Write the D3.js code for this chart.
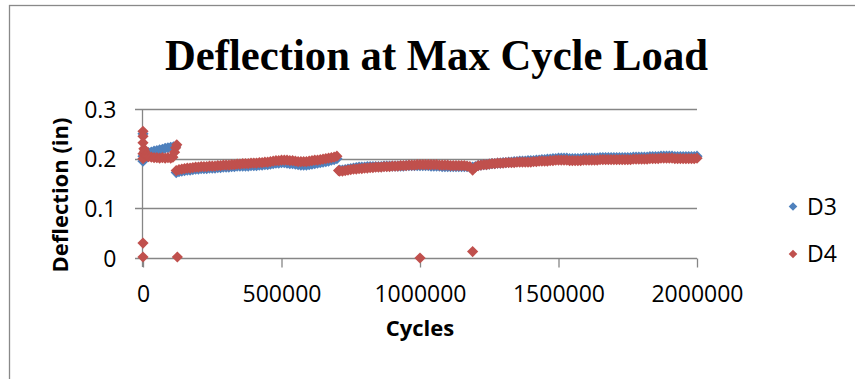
<!DOCTYPE html>
<html>
<head>
<meta charset="utf-8">
<script src="https://d3js.org/d3.v7.min.js"></script>
<style>
  body { margin: 0; background: #fff; }
</style>
</head>
<body>
<script>
// tick labels
var xTicks = [0, 500000, 1000000, 1500000, 2000000];
var yTicks = [0, 0.1, 0.2, 0.3];
var seriesNames = ['D3', 'D4'];
var seriesColors = ['#4F81BD', '#C0504D'];

// D3 readings [cycles, deflection]
var d3Points = [
  [0, 0.195], [0, 0.25], [0, 0.205], [5000, 0.206], [10000, 0.209], [20000, 0.212], [30000, 0.213], [40000, 0.215],
  [50000, 0.216], [60000, 0.218], [70000, 0.219], [80000, 0.221], [90000, 0.222], [100000, 0.223], [110000, 0.224], [118000, 0.225],
  [120000, 0.172], [130000, 0.174], [140000, 0.175], [150000, 0.176], [160000, 0.177], [170000, 0.177], [180000, 0.178], [190000, 0.179],
  [200000, 0.179], [210000, 0.18], [220000, 0.18], [230000, 0.18], [240000, 0.181], [250000, 0.181], [260000, 0.181], [270000, 0.182],
  [280000, 0.182], [290000, 0.183], [300000, 0.183], [310000, 0.183], [320000, 0.184], [330000, 0.184], [340000, 0.185], [350000, 0.185],
  [360000, 0.185], [370000, 0.185], [380000, 0.185], [390000, 0.186], [400000, 0.186], [410000, 0.186], [420000, 0.187], [430000, 0.187],
  [440000, 0.188], [450000, 0.188], [460000, 0.189], [470000, 0.19], [480000, 0.191], [490000, 0.191], [500000, 0.192], [510000, 0.192],
  [520000, 0.191], [530000, 0.19], [540000, 0.19], [550000, 0.189], [560000, 0.188], [570000, 0.187], [580000, 0.187], [590000, 0.187],
  [600000, 0.188], [610000, 0.189], [620000, 0.19], [630000, 0.191], [640000, 0.192], [650000, 0.193], [660000, 0.194], [670000, 0.195],
  [680000, 0.197], [690000, 0.198], [700000, 0.2],
  [710000, 0.177], [720000, 0.177], [730000, 0.178], [740000, 0.179], [750000, 0.18], [760000, 0.181], [770000, 0.182], [780000, 0.183],
  [790000, 0.183], [800000, 0.183], [810000, 0.184], [820000, 0.184], [830000, 0.184], [840000, 0.184], [850000, 0.184], [860000, 0.184],
  [870000, 0.185], [880000, 0.185], [890000, 0.185], [900000, 0.185], [910000, 0.185], [920000, 0.185], [930000, 0.185], [940000, 0.185],
  [950000, 0.186], [960000, 0.186], [970000, 0.186], [980000, 0.186], [990000, 0.186], [1000000, 0.186], [1010000, 0.186], [1020000, 0.186],
  [1030000, 0.186], [1040000, 0.185], [1050000, 0.185], [1060000, 0.185], [1070000, 0.185], [1080000, 0.184], [1090000, 0.184], [1100000, 0.184],
  [1110000, 0.184], [1120000, 0.184], [1130000, 0.184], [1140000, 0.184], [1150000, 0.184], [1160000, 0.184], [1170000, 0.184], [1180000, 0.183],
  [1190000, 0.183], [1200000, 0.184], [1210000, 0.186], [1220000, 0.187], [1230000, 0.188], [1240000, 0.188], [1250000, 0.189], [1260000, 0.19],
  [1270000, 0.19], [1280000, 0.191], [1290000, 0.191], [1300000, 0.192], [1310000, 0.192], [1320000, 0.193], [1330000, 0.193], [1340000, 0.194],
  [1350000, 0.194], [1360000, 0.195], [1370000, 0.195], [1380000, 0.195], [1390000, 0.196], [1400000, 0.196], [1410000, 0.196], [1420000, 0.197],
  [1430000, 0.197], [1440000, 0.198], [1450000, 0.198], [1460000, 0.199], [1470000, 0.199], [1480000, 0.2], [1490000, 0.2], [1500000, 0.201],
  [1510000, 0.201], [1520000, 0.201], [1530000, 0.201], [1540000, 0.2], [1550000, 0.2], [1560000, 0.2], [1570000, 0.2], [1580000, 0.2],
  [1590000, 0.201], [1600000, 0.201], [1610000, 0.201], [1620000, 0.201], [1630000, 0.201], [1640000, 0.201], [1650000, 0.202], [1660000, 0.202],
  [1670000, 0.202], [1680000, 0.202], [1690000, 0.202], [1700000, 0.202], [1710000, 0.202], [1720000, 0.202], [1730000, 0.202], [1740000, 0.202],
  [1750000, 0.202], [1760000, 0.202], [1770000, 0.203], [1780000, 0.203], [1790000, 0.203], [1800000, 0.203], [1810000, 0.203], [1820000, 0.203],
  [1830000, 0.204], [1840000, 0.204], [1850000, 0.204], [1860000, 0.204], [1870000, 0.205], [1880000, 0.205], [1890000, 0.205], [1900000, 0.205],
  [1910000, 0.205], [1920000, 0.204], [1930000, 0.204], [1940000, 0.204], [1950000, 0.204], [1960000, 0.204], [1970000, 0.204], [1980000, 0.204],
  [1990000, 0.204], [2000000, 0.205]
];

// D4 readings [cycles, deflection]
var d4Points = [
  [0, 0.255], [0, 0.245], [0, 0.232], [0, 0.21], [0, 0.2], [0, 0.03], [0, 0.002],
  [3000, 0.22], [6000, 0.215], [10000, 0.206], [15000, 0.205], [20000, 0.204], [30000, 0.203], [40000, 0.202], [50000, 0.202],
  [60000, 0.201], [70000, 0.202], [80000, 0.201], [90000, 0.202], [100000, 0.201], [108000, 0.203], [114000, 0.213], [118000, 0.222],
  [122000, 0.228], [124000, 0.002],
  [120000, 0.176], [130000, 0.178], [140000, 0.179], [150000, 0.18], [160000, 0.181], [170000, 0.181], [180000, 0.182], [190000, 0.183],
  [200000, 0.183], [210000, 0.184], [220000, 0.184], [230000, 0.184], [240000, 0.185], [250000, 0.185], [260000, 0.185], [270000, 0.186],
  [280000, 0.186], [290000, 0.187], [300000, 0.187], [310000, 0.187], [320000, 0.188], [330000, 0.188], [340000, 0.189], [350000, 0.189],
  [360000, 0.19], [370000, 0.19], [380000, 0.19], [390000, 0.191], [400000, 0.191], [410000, 0.191], [420000, 0.192], [430000, 0.192],
  [440000, 0.193], [450000, 0.193], [460000, 0.194], [470000, 0.195], [480000, 0.196], [490000, 0.196], [500000, 0.197], [510000, 0.197],
  [520000, 0.197], [530000, 0.196], [540000, 0.196], [550000, 0.195], [560000, 0.194], [570000, 0.194], [580000, 0.194], [590000, 0.194],
  [600000, 0.195], [610000, 0.196], [620000, 0.197], [630000, 0.197], [640000, 0.198], [650000, 0.199], [660000, 0.2], [670000, 0.201],
  [680000, 0.202], [690000, 0.203], [700000, 0.205],
  [706000, 0.176], [710000, 0.175], [720000, 0.175], [730000, 0.176], [740000, 0.177], [750000, 0.178], [760000, 0.179], [770000, 0.179],
  [780000, 0.18], [790000, 0.18], [800000, 0.181], [810000, 0.181], [820000, 0.182], [830000, 0.182], [840000, 0.183], [850000, 0.183],
  [860000, 0.183], [870000, 0.184], [880000, 0.184], [890000, 0.184], [900000, 0.185], [910000, 0.185], [920000, 0.185], [930000, 0.186],
  [940000, 0.186], [950000, 0.186], [960000, 0.187], [970000, 0.187], [980000, 0.187], [990000, 0.188], [1000000, 0.188], [1000000, 0.0],
  [1010000, 0.188], [1020000, 0.188], [1030000, 0.188], [1040000, 0.188], [1050000, 0.188], [1060000, 0.188], [1070000, 0.187], [1080000, 0.187],
  [1090000, 0.187], [1100000, 0.187], [1110000, 0.186], [1120000, 0.186], [1130000, 0.186], [1140000, 0.186], [1150000, 0.186], [1160000, 0.186],
  [1170000, 0.185], [1180000, 0.184], [1190000, 0.177], [1190000, 0.013], [1200000, 0.183], [1210000, 0.186], [1220000, 0.187], [1230000, 0.188],
  [1240000, 0.188], [1250000, 0.189], [1260000, 0.19], [1270000, 0.19], [1280000, 0.191], [1290000, 0.191], [1300000, 0.191], [1310000, 0.192],
  [1320000, 0.192], [1330000, 0.192], [1340000, 0.192], [1350000, 0.193], [1360000, 0.193], [1370000, 0.193], [1380000, 0.193], [1390000, 0.193],
  [1400000, 0.193], [1410000, 0.194], [1420000, 0.194], [1430000, 0.195], [1440000, 0.195], [1450000, 0.195], [1460000, 0.195], [1470000, 0.196],
  [1480000, 0.196], [1490000, 0.197], [1500000, 0.197], [1510000, 0.197], [1520000, 0.197], [1530000, 0.197], [1540000, 0.196], [1550000, 0.196],
  [1560000, 0.196], [1570000, 0.196], [1580000, 0.196], [1590000, 0.197], [1600000, 0.197], [1610000, 0.197], [1620000, 0.197], [1630000, 0.197],
  [1640000, 0.197], [1650000, 0.198], [1660000, 0.198], [1670000, 0.198], [1680000, 0.198], [1690000, 0.198], [1700000, 0.198], [1710000, 0.198],
  [1720000, 0.198], [1730000, 0.198], [1740000, 0.198], [1750000, 0.198], [1760000, 0.198], [1770000, 0.199], [1780000, 0.199], [1790000, 0.199],
  [1800000, 0.199], [1810000, 0.199], [1820000, 0.199], [1830000, 0.2], [1840000, 0.2], [1850000, 0.2], [1860000, 0.2], [1870000, 0.201],
  [1880000, 0.201], [1890000, 0.201], [1900000, 0.201], [1910000, 0.201], [1920000, 0.2], [1930000, 0.2], [1940000, 0.2], [1950000, 0.2],
  [1960000, 0.2], [1970000, 0.2], [1980000, 0.2], [1990000, 0.2], [2000000, 0.201]
];

var W = 855, H = 379;
var font = "'Open Sans', 'Liberation Sans', sans-serif";

var svg = d3.select('body').append('svg')
  .attr('width', W).attr('height', H);

// chart frame
svg.append('rect')
  .attr('x', 9.5).attr('y', 5.5)
  .attr('width', 900).attr('height', 400)
  .attr('fill', 'none').attr('stroke', '#898989').attr('stroke-width', 1.3);

var x = d3.scaleLinear().domain([0, 2000000]).range([143, 697]);
var y = d3.scaleLinear().domain([0, 0.3]).range([258, 109]);

// gridlines
svg.append('g').selectAll('line')
  .data(yTicks.filter(d => d > 0))
  .enter().append('line')
  .attr('x1', x(0) - 8).attr('x2', x(2000000))
  .attr('y1', d => Math.round(y(d)) + 0.5).attr('y2', d => Math.round(y(d)) + 0.5)
  .attr('stroke', '#868686').attr('stroke-width', 1.3);

// x axis
var gx = svg.append('g')
  .attr('transform', 'translate(0,' + (Math.round(y(0)) + 0.5) + ')')
  .call(d3.axisBottom(x).tickValues(xTicks).tickSize(9).tickSizeOuter(0).tickFormat(d3.format('d')));
gx.select('.domain').attr('stroke', '#868686').attr('stroke-width', 1.3)
  .attr('d', 'M' + (x(0) - 8) + ',0H' + x(2000000));
gx.selectAll('.tick line').attr('stroke', '#868686').attr('stroke-width', 1.3);
gx.selectAll('.tick text').attr('y', 0).attr('dy', 0)
  .attr('transform', 'translate(0,43)')
  .style('font-family', font).style('font-size', '23px').attr('fill', '#000');

// y axis
var gy = svg.append('g')
  .attr('transform', 'translate(' + (Math.round(x(0)) - 0.5) + ',0)')
  .call(d3.axisLeft(y).tickValues(yTicks).tickSize(0).tickSizeOuter(0).tickFormat(d => d === 0 ? '0' : d3.format('.1f')(d)));
gy.select('.domain').attr('stroke', '#868686').attr('stroke-width', 1.3)
  .attr('d', 'M0,' + y(0.3) + 'V' + (y(0) + 9));
gy.selectAll('.tick text').attr('x', -26).attr('dy', '0.36em')
  .style('font-family', font).style('font-size', '23px').attr('fill', '#000');

// diamonds
function diamond(cx, cy, w, h) {
  return 'M' + cx + ',' + (cy - h) + 'L' + (cx + w) + ',' + cy + 'L' + cx + ',' + (cy + h) + 'L' + (cx - w) + ',' + cy + 'Z';
}

[d3Points, d4Points].forEach(function (pts, i) {
  svg.append('g').selectAll('path')
    .data(pts)
    .enter().append('path')
    .attr('d', d => diamond(x(d[0]), y(d[1]), 5.6, 5.6))
    .attr('fill', seriesColors[i]);
});

// title
svg.append('text')
  .attr('x', 165).attr('y', 70)
  .attr('textLength', 543).attr('lengthAdjust', 'spacingAndGlyphs')
  .style('font-family', "'Liberation Serif', 'Times New Roman', serif")
  .style('font-weight', 'bold').style('font-size', '45px')
  .text('Deflection at Max Cycle Load');

// axis titles
svg.append('text')
  .attr('x', 420).attr('y', 336)
  .attr('text-anchor', 'middle')
  .style('font-family', font).style('font-weight', 'bold').style('font-size', '22px')
  .text('Cycles');

svg.append('text')
  .attr('transform', 'translate(68,195) rotate(-90)')
  .attr('text-anchor', 'middle')
  .style('font-family', font).style('font-weight', 'bold').style('font-size', '22px')
  .text('Deflection (in)');

// legend
var legend = svg.append('g').selectAll('g')
  .data(seriesNames)
  .enter().append('g')
  .attr('transform', (d, i) => 'translate(793,' + (206.5 + i * 47.5) + ')');
legend.append('path')
  .attr('d', diamond(0, 0, 4.3, 4.3))
  .attr('fill', (d, i) => seriesColors[i]);
legend.append('text')
  .attr('x', 14).attr('y', 8)
  .style('font-family', font).style('font-size', '23px')
  .text(d => d);
</script>
</body>
</html>
